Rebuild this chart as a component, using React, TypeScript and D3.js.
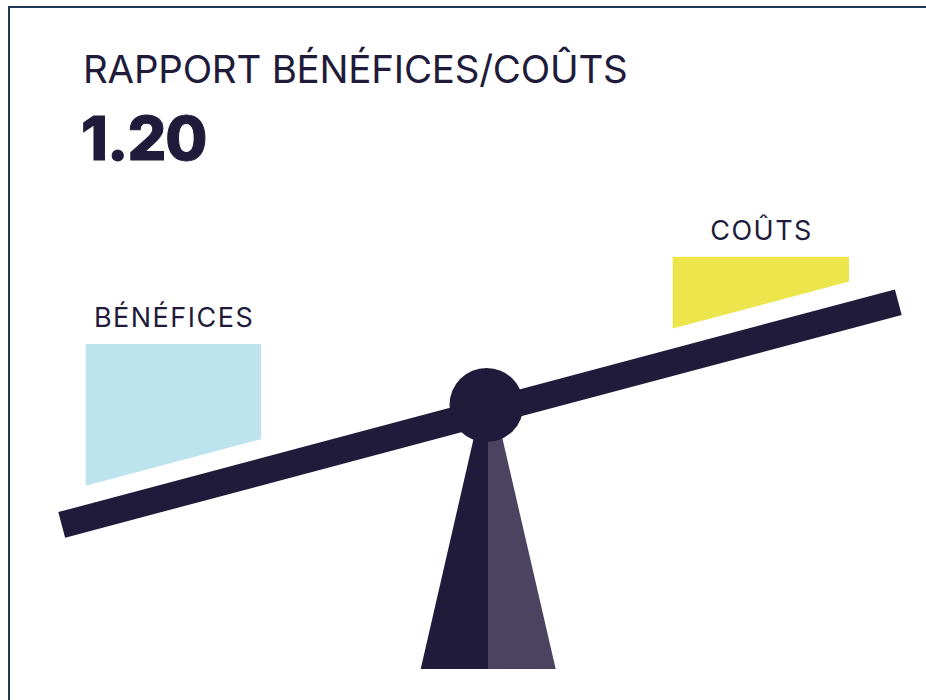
import React from "react";
import * as d3 from "d3";

const titleText = "RAPPORT BÉNÉFICES/COÛTS";
const ratioValue = [1.2];
const categories = ["BÉNÉFICES", "COÛTS"];
const categoryColors = ["#bde3ef", "#ece54b"];

const NAVY = "#201b3a";
const NAVY_LIGHT = "#4b4360";
const FRAME = "#1f3a56";

export default function App() {
  const W = 926;
  const H = 700;
  const beamL: [number, number] = [61.7, 524.9];
  const beamR: [number, number] = [898.3, 302.2];
  const slope = (beamR[1] - beamL[1]) / (beamR[0] - beamL[0]);
  const angle = (Math.atan(slope) * 180) / Math.PI;
  const beamLen = Math.hypot(beamR[0] - beamL[0], beamR[1] - beamL[1]);
  const beamThick = 26.5;
  const cx = 486.5;
  const cy = 405;
  const r = 37;

  const along = d3.scaleLinear().domain([0, 1]).range([beamL[0], beamR[0]]);
  const beamY = (x: number) => beamL[1] + slope * (x - beamL[0]);

  const line = d3.line();

  const boxes = [
    { x0: 85.7, x1: 261, top: 344, gap: 19 },
    { x0: 672.7, x1: 849, top: 256.7, gap: 20 },
  ];
  const beamTopY = (x: number) => beamY(x) - beamThick / 2 / Math.cos(Math.atan(slope));

  const standTopY = 376;
  const standBottom = 669;
  const standL = 420.7;
  const standR = 555.7;
  const standMid = 488;

  const fmt = d3.format(".2f");

  return (
    <svg
      width={W}
      height={H}
      style={{ position: "absolute", left: 0, top: 0, background: "#fff" }}
      fontFamily="Inter, 'Open Sans', sans-serif"
    >
      <rect x={9} y={7} width={940} height={720} fill="none" stroke={FRAME} strokeWidth={2} />
      <text x={83} y={83.3} fontSize={38.5} fill={NAVY} fontWeight={400} letterSpacing={-0.22}>
        {titleText}
      </text>
      <text
        x={81}
        y={159.8}
        fontSize={61}
        fill={NAVY}
        fontWeight={800}
        stroke={NAVY}
        strokeWidth={1}
        letterSpacing={-1}
      >
        {fmt(ratioValue[0])}
      </text>

      {boxes.map((b, i) => {
        const pts: [number, number][] = [
          [b.x0, b.top],
          [b.x1, b.top],
          [b.x1, beamTopY(b.x1) - b.gap],
          [b.x0, beamTopY(b.x0) - b.gap],
        ];
        return (
          <g key={categories[i]}>
            <path d={line(pts) + "Z"} fill={categoryColors[i]} />
            <text
              x={(b.x0 + b.x1) / 2 + 0.75}
              y={b.top - 17}
              textAnchor="middle"
              fontSize={27}
              letterSpacing={1.5}
              fill={NAVY}
            >
              {categories[i]}
            </text>
          </g>
        );
      })}

      <path
        d={line([
          [standMid, standTopY],
          [standMid, standBottom],
          [standL, standBottom],
        ]) + "Z"}
        fill={NAVY}
      />
      <path
        d={line([
          [standMid, standTopY],
          [standR, standBottom],
          [standMid, standBottom],
        ]) + "Z"}
        fill={NAVY_LIGHT}
      />

      <rect
        x={0}
        y={-beamThick / 2}
        width={beamLen}
        height={beamThick}
        fill={NAVY}
        transform={`translate(${along(0)},${beamL[1]}) rotate(${angle})`}
      />
      <circle cx={cx} cy={cy} r={r} fill={NAVY} />
    </svg>
  );
}
